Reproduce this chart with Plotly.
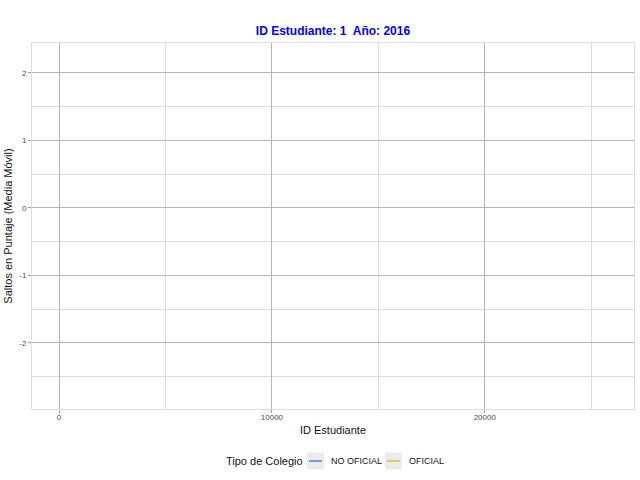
import plotly.graph_objects as go

# Data (animation frame 1: each series has only a single point, so no line is drawn)
series_names = ["NO OFICIAL", "OFICIAL"]
series_colors = ["#1874cd", "#e8a800"]
series_x = [[1], [1]]
series_y = [[None], [None]]

title_text = "ID Estudiante: 1  Año: 2016"
x_title = "ID Estudiante"
y_title = "Saltos en Puntaje (Media Móvil)"
legend_title = "Tipo de Colegio"
x_ticks = [0, 10000, 20000]
x_ticklabels = ["0", "10000", "20000"]
y_ticks = [-2, -1, 0, 1, 2]
y_ticklabels = ["-2", "-1", "0", "1", "2"]

x_range = [-1270, 27010]
y_range = [-2.98, 2.44]

# Figure geometry
W, H = 640, 480
ML, MR, MT, MB = 32, 6, 43, 71
PW, PH = W - ML - MR, H - MT - MB


def px_to_paper(X, Y):
    """Pixel position in the 640x480 figure -> paper coordinates."""
    return (X - ML) / PW, (H - MB - Y) / PH


fig = go.Figure()
for name, color, xs, ys in zip(series_names, series_colors, series_x, series_y):
    fig.add_trace(go.Scatter(x=xs, y=ys, mode="lines", name=name,
                             line=dict(color=color, width=1), showlegend=False))

font_family = "Liberation Sans, Arial, sans-serif"

# ggplot-style legend built from the series lists
lx, ly = px_to_paper(224, 461)
fig.add_annotation(text=legend_title, xref="paper", yref="paper", x=lx, y=ly,
                   xanchor="left", yanchor="middle", showarrow=False,
                   font=dict(size=11, color="#111"))
key_starts = [307, 385]
for name, color, ks in zip(series_names, series_colors, key_starts):
    x0, y0 = px_to_paper(ks, 469.5)
    x1, y1 = px_to_paper(ks + 17, 452.5)
    fig.add_shape(type="rect", xref="paper", yref="paper", x0=x0, y0=y0, x1=x1, y1=y1,
                  fillcolor="#ebebeb", line=dict(width=0), layer="below")
    lx0, lyy = px_to_paper(ks + 2, 461)
    lx1, _ = px_to_paper(ks + 15, 461)
    fig.add_shape(type="line", xref="paper", yref="paper", x0=lx0, y0=lyy, x1=lx1, y1=lyy,
                  line=dict(color=color, width=1.2))
    tx, ty = px_to_paper(ks + 22, 461)
    fig.add_annotation(text=name, xref="paper", yref="paper", x=tx, y=ty,
                       xanchor="left", yanchor="middle", showarrow=False,
                       font=dict(size=9, color="#111"))

fig.update_layout(
    width=W, height=H,
    margin=dict(l=ML, r=MR, t=MT, b=MB, autoexpand=False),
    paper_bgcolor="white", plot_bgcolor="white",
    font=dict(family=font_family, color="#222"),
    title=dict(text="<b>" + title_text + "</b>", x=333 / W, xanchor="center",
               y=1 - 31 / H, yanchor="middle",
               font=dict(size=12, color="#0000ff", family=font_family)),
    showlegend=False,
)
axis_common = dict(
    showline=True, mirror=True, linecolor="#dedede", linewidth=1,
    showgrid=True, gridcolor="#b5b5b5", gridwidth=1, zeroline=False,
    ticks="outside", ticklen=3, tickcolor="#999", tickwidth=1,
    tickfont=dict(size=8, color="#4d4d4d"), automargin=True,
)
fig.update_xaxes(range=x_range, tickmode="array", tickvals=x_ticks, ticktext=x_ticklabels,
                 ticklabelstandoff=-3,
                 minor=dict(dtick=5000, tick0=0, showgrid=True, gridcolor="#dcdcdc", gridwidth=1, ticks=""),
                 title=dict(text=x_title, font=dict(size=11, color="#111"), standoff=5),
                 **axis_common)
fig.update_yaxes(range=y_range, tickmode="array", tickvals=y_ticks, ticktext=y_ticklabels,
                 minor=dict(dtick=0.5, tick0=0, showgrid=True, gridcolor="#dcdcdc", gridwidth=1, ticks=""),
                 title=dict(text=y_title, font=dict(size=11, color="#111"), standoff=4),
                 **axis_common)

fig.write_html("out.html", config={"displayModeBar": False},
               post_script="document.body.style.margin='0';")
